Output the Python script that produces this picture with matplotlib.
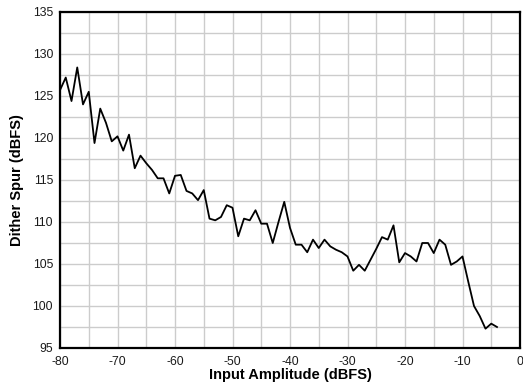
import numpy as np
import matplotlib
matplotlib.use('Agg')
import matplotlib.pyplot as plt

plt.rcParams['font.family'] = ['Liberation Sans', 'DejaVu Sans']
plt.rcParams['axes.unicode_minus'] = False

# input amplitude (dBFS), 1 dB steps
amp = list(range(-80, -3))
# dither spur (dBFS)
spur = [125.7, 127.2, 124.4, 128.4, 124.0, 125.5, 119.4, 123.5, 121.8, 119.6,
        120.2, 118.5, 120.4, 116.4, 117.9, 117.0, 116.2, 115.2, 115.2, 113.4,
        115.5, 115.6, 113.7, 113.4, 112.6, 113.8, 110.4, 110.2, 110.6, 112.0,
        111.7, 108.3, 110.4, 110.2, 111.4, 109.8, 109.8, 107.5, 110.0, 112.4,
        109.3, 107.3, 107.3, 106.4, 107.9, 106.9, 107.9, 107.1, 106.7, 106.4,
        105.9, 104.2, 104.9, 104.2, 105.5, 106.8, 108.2, 107.9, 109.6, 105.2,
        106.3, 105.9, 105.3, 107.5, 107.5, 106.3, 107.9, 107.3, 104.9, 105.3,
        105.9, 102.9, 100.0, 98.8, 97.3, 97.9, 97.5]

fig = plt.figure(figsize=(5.23, 3.91), dpi=100)
ax = fig.add_axes([60/523, 1-348/391, 460/523, 336/391])

ax.plot(amp, spur, color='black', linewidth=1.3, zorder=3)

ax.set_xlim(-80, 0)
ax.set_ylim(95, 135)
ax.set_xticks(np.arange(-80, 1, 10))
ax.set_yticks(np.arange(95, 136, 5))
ax.set_xticks(np.arange(-80, 1, 5), minor=True)
ax.set_yticks(np.arange(95, 136, 2.5), minor=True)
ax.grid(which='both', color='#cccccc', linewidth=1.0, zorder=0)
ax.tick_params(which='both', length=0, labelsize=8.8, colors='#1a1a1a')
ax.tick_params(axis='x', pad=5.5)
ax.tick_params(axis='y', pad=5)

for s in ax.spines.values():
    s.set_linewidth(1.6)
    s.set_color('black')

ax.set_xlabel('Input Amplitude (dBFS)', fontsize=10.5, fontweight='bold', labelpad=0)
ax.set_ylabel('Dither Spur (dBFS)', fontsize=10.5, fontweight='bold', labelpad=6)

fig.savefig('out.png', dpi=100)
